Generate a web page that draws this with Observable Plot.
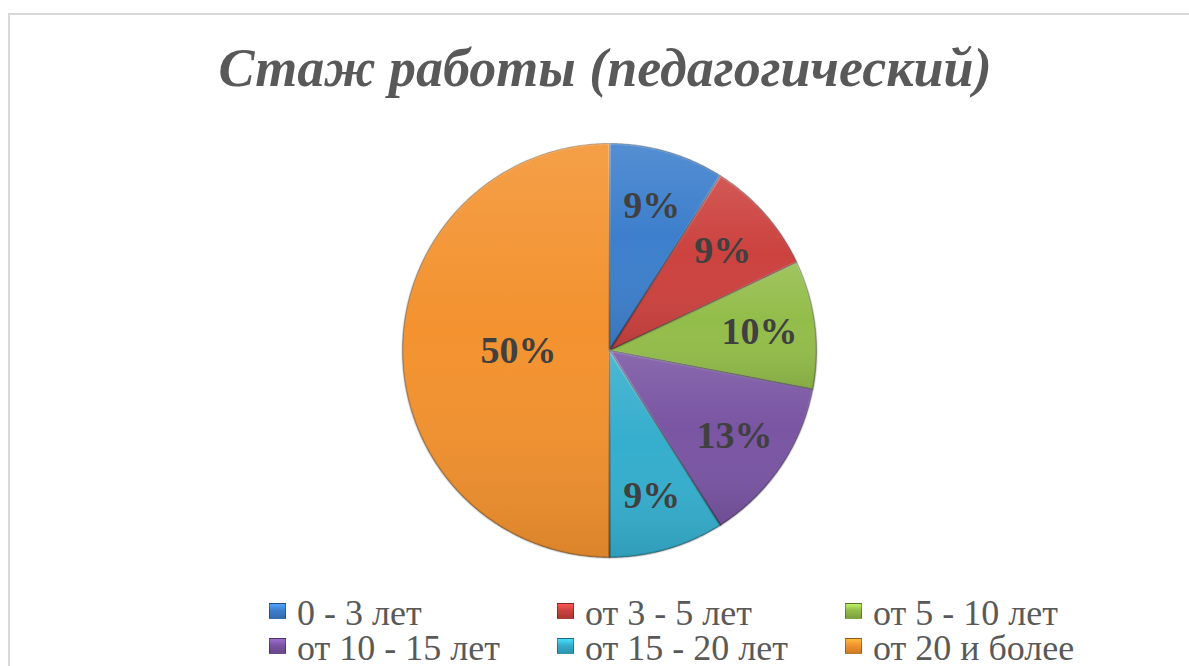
<!DOCTYPE html>
<html><head><meta charset="utf-8">
<script src="https://cdn.jsdelivr.net/npm/d3@7"></script>
<script src="https://cdn.jsdelivr.net/npm/@observablehq/plot@0.6"></script>
<style>
html,body{margin:0;padding:0;background:#fff;}
body{width:1189px;height:666px;overflow:hidden;position:relative;font-family:'Liberation Serif',serif;}
#frame{position:absolute;left:8px;top:13px;width:1200px;height:700px;border:2px solid #d9d9d9;box-sizing:border-box;}
#title{position:absolute;left:0;top:40px;width:1210px;text-align:center;font-family:'Liberation Serif',serif;font-size:54px;line-height:56px;font-weight:bold;font-style:italic;color:#595959;white-space:nowrap;}
#chart{position:absolute;left:0;top:130px;}
#legend{position:absolute;left:0;top:0;}
.item{position:absolute;font-family:'Liberation Serif',serif;font-size:36px;line-height:30px;color:#595959;white-space:nowrap;}
.sw{position:absolute;left:0;top:5px;width:17px;height:16px;box-sizing:border-box;border:1px solid rgba(0,0,0,0.3);}
.tx{position:absolute;left:28px;top:0;}
</style></head>
<body>
<div id="frame"></div>
<div id="title">Стаж работы (педагогический)</div>
<div id="chart"></div>
<div id="legend"></div>
<script>
const categories = ["0 - 3 лет", "от 3 - 5 лет", "от 5 - 10 лет", "от 10 - 15 лет", "от 15 - 20 лет", "от 20 и более"];
const shares = [9, 9, 10, 13, 9, 50];
const labels = ["9%", "9%", "10%", "13%", "9%", "50%"];
const colors = ["#3d7fcc", "#cc423f", "#93bd4a", "#7a55a3", "#35aecd", "#f3922f"];

const W = 1189, H = 440, R = 207;
const rows = categories.map((c, i) => ({key: c, value: shares[i], label: labels[i]}));
const arcs = d3.pie().sort(null).value(d => d.value)(rows);

const outline = [];
arcs.forEach(s => {
  const n = Math.max(2, Math.ceil((s.endAngle - s.startAngle) / 0.01));
  outline.push({key: s.data.key, x: 0, y: 0});
  for (let k = 0; k <= n; k++) {
    const a = s.startAngle + (s.endAngle - s.startAngle) * k / n;
    outline.push({key: s.data.key, x: R * Math.sin(a), y: R * Math.cos(a)});
  }
  outline.push({key: s.data.key, x: 0, y: 0});
});

const labelRadius = s => (s.endAngle - s.startAngle) > Math.PI * 0.6 ? R * 0.44 : R * 0.73;
const mid = s => (s.startAngle + s.endAngle) / 2;

const plot = Plot.plot({
  width: W, height: H,
  margin: 0,
  x: {domain: [-609, W - 609], axis: null},
  y: {domain: [-H / 2, H / 2], axis: null},
  color: {domain: categories, range: colors},
  style: {background: "transparent", overflow: "visible"},
  marks: [
    Plot.line(outline, {x: "x", y: "y", z: "key", fill: "key", stroke: "rgba(0,0,0,0.3)", strokeWidth: 1.2, curve: "linear"}),
    Plot.line(outline, {x: "x", y: "y", z: "key", fill: "url(#shade)", stroke: "url(#rim)", strokeWidth: 3, strokeOpacity: 0.5, curve: "linear"}),
    Plot.text(arcs, {
      x: s => labelRadius(s) * Math.sin(mid(s)),
      y: s => labelRadius(s) * Math.cos(mid(s)),
      text: s => s.data.label,
      fontSize: 38, fontWeight: "bold", fontFamily: "Liberation Serif",
      fill: "#404040"
    })
  ]
});

const svg = d3.select(plot);
const defs = svg.insert("defs", ":first-child");
const g = defs.append("linearGradient").attr("id", "shade").attr("x1", 0).attr("y1", 0).attr("x2", 0).attr("y2", 1);
g.append("stop").attr("offset", "0%").attr("stop-color", "#fff").attr("stop-opacity", 0.12);
g.append("stop").attr("offset", "45%").attr("stop-color", "#fff").attr("stop-opacity", 0);
g.append("stop").attr("offset", "100%").attr("stop-color", "#000").attr("stop-opacity", 0.1);
const rim = defs.append("linearGradient").attr("id", "rim").attr("x1", 0).attr("y1", 0).attr("x2", 0).attr("y2", 1);
rim.append("stop").attr("offset", "0%").attr("stop-color", "#fff").attr("stop-opacity", 0.35);
rim.append("stop").attr("offset", "100%").attr("stop-color", "#000").attr("stop-opacity", 0.2);
document.getElementById("chart").appendChild(plot);

// legend
const colorScale = plot.scale("color");
const colX = [269, 557, 845];
const rowY = [598, 633];
const legend = document.getElementById("legend");
categories.forEach((c, i) => {
  const item = document.createElement("div");
  item.className = "item";
  item.style.left = colX[i % 3] + "px";
  item.style.top = rowY[Math.floor(i / 3)] + "px";
  const col = colorScale.apply(c);
  const sw = document.createElement("div");
  sw.className = "sw";
  sw.style.background = `linear-gradient(to bottom, ${d3.color(col).brighter(0.7)}, ${col} 45%, ${d3.color(col).darker(0.45)})`;
  const tx = document.createElement("div");
  tx.className = "tx";
  tx.textContent = c;
  item.appendChild(sw);
  item.appendChild(tx);
  legend.appendChild(item);
});
</script>
</body></html>
